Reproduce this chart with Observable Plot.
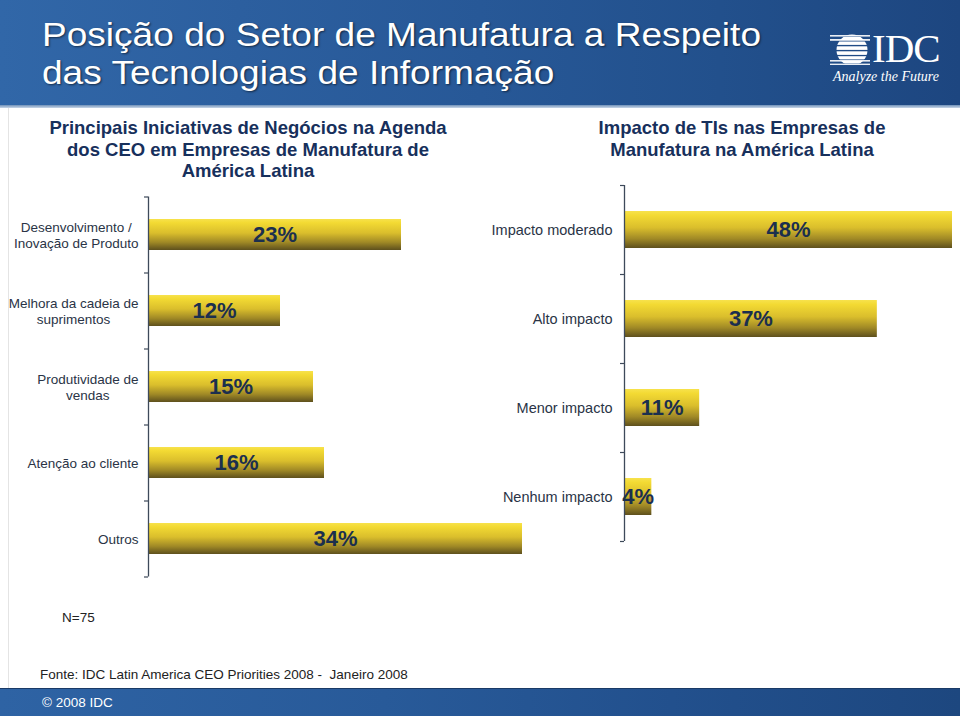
<!DOCTYPE html>
<html><head><meta charset="utf-8">
<script src="https://cdn.jsdelivr.net/npm/d3@7"></script>
<script src="https://cdn.jsdelivr.net/npm/@observablehq/plot@0.6"></script>
<style>
body{margin:0;background:#fff;}
#page{position:relative;width:960px;height:716px;overflow:hidden;font-family:"Liberation Sans",Arial,sans-serif;background:#fff;}
#header{position:absolute;left:0;top:0;width:960px;height:105px;
 background:linear-gradient(90deg,#3167A8 0%,#2C5F9F 25%,#275897 50%,#22508C 75%,#1D4680 100%);}
#header:after{content:"";position:absolute;left:0;right:0;bottom:-3px;height:3px;background:linear-gradient(180deg,#6F90B8,#C9D7E8);}
#title{position:absolute;left:42px;top:15px;color:#fff;font-size:34px;line-height:38px;text-shadow:1px 1px 2px rgba(0,0,0,0.55);white-space:nowrap;transform:scaleX(1.09);transform-origin:0 0;}
#logo{position:absolute;left:830px;top:32px;width:112px;height:60px;color:#fff;}
#logo .idc{position:absolute;left:42px;top:-4px;font-family:"Liberation Serif","DejaVu Serif",serif;font-size:41px;line-height:40px;letter-spacing:-1px;}
#logo .tag{position:absolute;left:3px;top:37px;font-family:"Liberation Serif","DejaVu Serif",serif;font-style:italic;font-size:14px;white-space:nowrap;}
.sub{position:absolute;color:#17305C;font-weight:bold;font-size:18.5px;line-height:21.5px;text-align:center;white-space:nowrap;}
#footer{position:absolute;left:0;top:688px;width:960px;height:28px;
 background:linear-gradient(90deg,#2E63A4 0%,#285A99 40%,#22508D 70%,#1D477F 100%);border-top:1px solid #1A3A66;}
#footer span{position:absolute;left:42px;top:6px;color:#fff;font-size:13.5px;}
.note{position:absolute;color:#222;font-size:13.5px;white-space:nowrap;}
#edge{position:absolute;left:8px;top:108px;width:1px;height:580px;background:#e4e4e4;}
#chartL,#chartR{position:absolute;}
#chartL{left:0;top:185px;}
#chartR{left:480px;top:175px;}
</style></head><body>
<svg width="0" height="0" style="position:absolute">
 <defs>
  <linearGradient id="gold" x1="0" y1="0" x2="0" y2="1">
   <stop offset="0" stop-color="#F7E24C"/>
   <stop offset="0.12" stop-color="#F3DA33"/>
   <stop offset="0.45" stop-color="#DABE2C"/>
   <stop offset="0.75" stop-color="#A08926"/>
   <stop offset="1" stop-color="#5E501D"/>
  </linearGradient>
 </defs>
</svg>
<div id="page">
 <div id="header">
  <div id="title">Posição do Setor de Manufatura a Respeito<br>das Tecnologias de Informação</div>
  <div id="logo">
   <svg width="40" height="34" style="position:absolute;left:0;top:1px" viewBox="0 0 40 34">
    <defs><clipPath id="gc"><circle cx="22" cy="17" r="15.5"/></clipPath></defs>
    <g fill="#fff">
     <rect x="0" y="2" width="40" height="1.6" opacity="0.9"/>
     <rect x="0" y="6" width="40" height="1.8" opacity="0.9"/>
     <rect x="0" y="27" width="40" height="1.6" opacity="0.9"/>
     <rect x="0" y="30.6" width="40" height="1.4" opacity="0.9"/>
     <g clip-path="url(#gc)">
      <rect x="0" y="0" width="40" height="2.6"/>
      <rect x="0" y="4" width="40" height="3"/>
      <rect x="0" y="8.5" width="40" height="3.4"/>
      <rect x="0" y="13.3" width="40" height="3.6"/>
      <rect x="0" y="18.3" width="40" height="3.6"/>
      <rect x="0" y="23.2" width="40" height="3.2"/>
      <rect x="0" y="27.8" width="40" height="2.6"/>
     </g>
    </g>
   </svg>
   <div class="idc">IDC</div>
   <div class="tag">Analyze the Future</div>
  </div>
 </div>
 <div id="edge"></div>
 <div class="sub" id="subL" style="left:48px;width:400px;top:117px;">Principais Iniciativas de Negócios na Agenda<br>dos CEO em Empresas de Manufatura de<br>América Latina</div>
 <div class="sub" id="subR" style="left:542px;width:400px;top:117px;">Impacto de TIs nas Empresas de<br>Manufatura na América Latina</div>
 <div id="chartL"></div>
 <div id="chartR"></div>
 <div class="note" style="left:62px;top:610px;">N=75</div>
 <div class="note" style="left:40px;top:667px;">Fonte: IDC Latin America CEO Priorities 2008 -&nbsp; Janeiro 2008</div>
 <div id="footer"><span>© 2008 IDC</span></div>
</div>
<script>
// ---- data ----
const iniciativas = ["Desenvolvimento /\nInovação de Produto", "Melhora da cadeia de\nsuprimentos", "Produtividade de\nvendas", "Atenção ao cliente", "Outros"];
const iniciativasPct = [23, 12, 15, 16, 34];
const impactos = ["Impacto moderado", "Alto impacto", "Menor impacto", "Nenhum impacto"];
const impactosPct = [48, 37, 11, 4];

const FONT = '"Liberation Sans", Arial, sans-serif';
const labelColor = "#2A3446";
const valueColor = "#1B2F4E";
const axisColor = "#3E4A5A";

const ctx = document.createElement("canvas").getContext("2d");
function maxLineWidth(s, size) {
  ctx.font = `${size}px "Liberation Sans", Arial, sans-serif`;
  return Math.max(...s.split("\n").map(l => ctx.measureText(l).width));
}

// ---- left chart ----
{
  const data = iniciativas.map((c, i) => ({cat: c, pct: iniciativasPct[i]}));
  const H = 400, mt = 11.5, mb = 8.5;
  const step = (H - mt - mb) / iniciativas.length;
  const fs = 13.5;
  const labelMarks = iniciativas.map(c => Plot.text([c], {
    x: () => 0, y: d => d, text: d => d,
    dx: -(10 + maxLineWidth(c, fs) / 2), textAnchor: "middle",
    fontSize: fs, lineHeight: 16 / fs, fill: labelColor
  }));
  const chart = Plot.plot({
    width: 530, height: H,
    marginLeft: 148, marginRight: 8, marginTop: mt, marginBottom: mb,
    style: {background: "transparent", fontFamily: FONT},
    x: {domain: [0, 34], axis: null},
    y: {domain: iniciativas, axis: null, paddingInner: 0.59, paddingOuter: 0.295},
    marks: [
      Plot.barX(data, {y: "cat", x: "pct", fill: "url(#gold)"}),
      Plot.ruleX([0], {stroke: axisColor, strokeWidth: 1.3}),
      Plot.ruleY(iniciativas, {y: d => d, dy: step / 2, x1: -4 / 11, x2: 0, stroke: axisColor, strokeWidth: 1.2}),
      Plot.ruleY(iniciativas.slice(0, 1), {y: d => d, dy: -step / 2, x1: -4 / 11, x2: 0, stroke: axisColor, strokeWidth: 1.2}),
      Plot.text(data, {y: "cat", x: d => d.pct / 2, text: d => d.pct + "%", fontSize: 22, fontWeight: "bold", fill: valueColor}),
      ...labelMarks
    ]
  });
  document.getElementById("chartL").append(chart);
}

// ---- right chart ----
{
  const data = impactos.map((c, i) => ({cat: c, pct: impactosPct[i]}));
  const H = 380, mt = 10, mb = 14;
  const step = (H - mt - mb) / impactos.length;
  const chart = Plot.plot({
    width: 480, height: H,
    marginLeft: 144, marginRight: 8, marginTop: mt, marginBottom: mb,
    style: {background: "transparent", fontFamily: FONT},
    x: {domain: [0, 48], range: [144, 472], axis: null},
    y: {domain: impactos, axis: null, paddingInner: 0.584, paddingOuter: 0.292},
    marks: [
      Plot.barX(data, {y: "cat", x: "pct", fill: "url(#gold)"}),
      Plot.ruleX([0], {stroke: axisColor, strokeWidth: 1.3}),
      Plot.ruleY(impactos, {y: d => d, dy: step / 2, x1: -4 / 6.83, x2: 0, stroke: axisColor, strokeWidth: 1.2}),
      Plot.ruleY(impactos.slice(0, 1), {y: d => d, dy: -step / 2, x1: -4 / 6.83, x2: 0, stroke: axisColor, strokeWidth: 1.2}),
      Plot.text(data, {y: "cat", x: d => d.pct / 2, text: d => d.pct + "%", fontSize: 22, fontWeight: "bold", fill: valueColor}),
      Plot.text(data, {y: "cat", x: () => 0, text: "cat", dx: -12, textAnchor: "end", fontSize: 14.5, fill: labelColor})
    ]
  });
  document.getElementById("chartR").append(chart);
}
</script>
</body></html>
